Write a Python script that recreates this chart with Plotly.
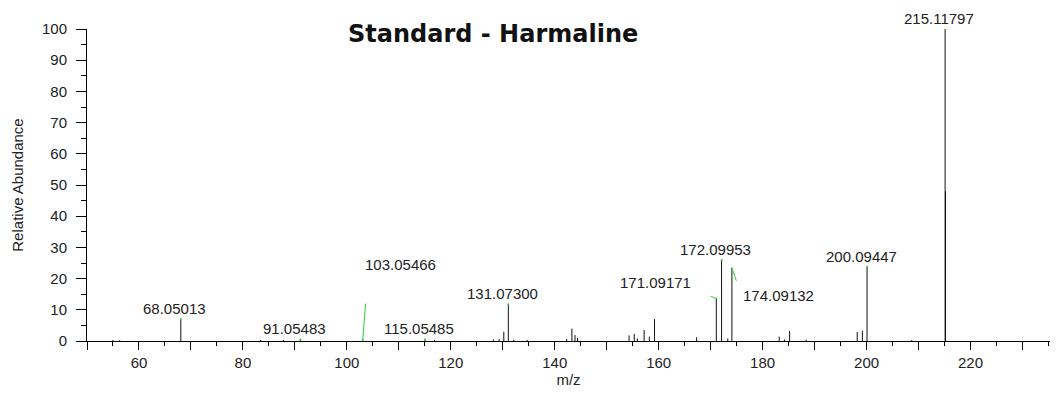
import plotly.graph_objects as go

# ---- data ----
mz = [55.0, 56.3, 68.05013, 83.4, 87.8, 91.05483, 103.05466, 115.05485, 116.9,
      128.2, 129.3, 130.2, 131.07300, 132.1, 134.7, 142.3, 143.3, 143.9, 144.4,
      154.3, 155.3, 155.9, 157.2, 158.2, 159.2, 167.3, 171.09171, 172.09953,
      173.3, 174.09132, 183.2, 184.2, 185.2, 188.4, 198.2, 199.2, 200.09447,
      208.7, 215.11797, 215.19]
intensity = [0.3, 0.3, 7.0, 0.3, 0.3, 0.5, 0.3, 0.5, 0.3,
             0.5, 0.6, 3.0, 11.8, 0.4, 0.3, 0.7, 4.0, 1.9, 1.0,
             1.8, 2.3, 0.8, 3.5, 1.4, 7.0, 1.2, 13.6, 26.0,
             0.8, 23.3, 1.4, 0.5, 3.2, 0.4, 2.9, 3.3, 23.8,
             0.3, 100.0, 48.0]

label_mz = [68.05013, 91.05483, 103.05466, 115.05485, 131.07300, 171.09171,
            172.09953, 174.09132, 200.09447, 215.11797]
label_int = [7.0, 0.5, 0.3, 0.5, 11.8, 13.6, 26.0, 23.3, 23.8, 100.0]
label_txt = ["68.05013", "91.05483", "103.05466", "115.05485", "131.07300",
             "171.09171", "172.09953", "174.09132", "200.09447", "215.11797"]

x_tickvals = list(range(50, 231, 10))
x_ticktext = [str(v) if v % 20 == 0 else "" for v in x_tickvals]

FONT = "Liberation Sans, Arial, sans-serif"
TXT = "#222222"
GREEN = "#33cc33"
FS = 15

# stick spectrum
xs, ys = [], []
for m, h in zip(mz, intensity):
    xs += [m, m, None]
    ys += [0, h, None]

fig = go.Figure()
fig.add_trace(go.Scatter(x=xs, y=ys, mode="lines",
                         line=dict(color="#111111", width=1),
                         hoverinfo="skip", showlegend=False))
fig.add_trace(go.Scatter(x=label_mz, y=label_int, mode="markers",
                         marker=dict(color=GREEN, size=2),
                         hoverinfo="skip", showlegend=False))

# label placement offsets (pixels): default straight above peak
offsets = {
    "103.05466": dict(xshift=38, yshift=76, leader=(3, -38)),
    "171.09171": dict(xshift=-61, yshift=16, leader=(-7, -3)),
    "174.09132": dict(xshift=47, yshift=-27, leader=(5, 14)),
}

for m, h, t in zip(label_mz, label_int, label_txt):
    if t in offsets:
        o = offsets[t]
        fig.add_annotation(x=m, y=h, text=t, showarrow=False,
                           xanchor="center", yanchor="middle",
                           xshift=o["xshift"], yshift=o["yshift"],
                           font=dict(family=FONT, size=FS, color=TXT))
        fig.add_annotation(x=m, y=h, text="", showarrow=True,
                           arrowhead=0, arrowwidth=1, arrowcolor=GREEN,
                           ax=o["leader"][0], ay=o["leader"][1], standoff=0)
    else:
        fig.add_annotation(x=m, y=h, text=t, showarrow=False,
                           xanchor="center", yanchor="bottom",
                           xshift=-6, yshift=0,
                           font=dict(family=FONT, size=FS, color=TXT))

fig.add_annotation(xref="paper", yref="paper", x=0.4216, y=0.985,
                   text="<b>Standard - Harmaline</b>", showarrow=False,
                   xanchor="center", yanchor="middle",
                   font=dict(family="DejaVu Sans, sans-serif", size=24, color="#111111"))

fig.update_layout(
    width=1058, height=396,
    margin=dict(l=87, r=8, t=29, b=55),
    paper_bgcolor="white", plot_bgcolor="white",
    font=dict(family=FONT, size=FS, color=TXT),
    xaxis=dict(range=[50, 235.3], showgrid=False, zeroline=False,
               showline=True, linecolor="black", linewidth=1,
               tickmode="array", tickvals=x_tickvals, ticktext=x_ticktext,
               ticks="outside", ticklen=8, tickcolor="black", tickwidth=1,
               minor=dict(dtick=5, tick0=50, ticks="outside", ticklen=4,
                          tickcolor="black", tickwidth=1),
               title=dict(text="m/z", font=dict(family=FONT, size=FS, color=TXT), standoff=2),
               tickfont=dict(family=FONT, size=FS, color=TXT)),
    yaxis=dict(range=[0, 100], showgrid=False, zeroline=False,
               showline=True, linecolor="black", linewidth=1,
               tickmode="linear", tick0=0, dtick=10,
               ticks="outside", ticklen=10, tickcolor="black", tickwidth=1,
               ticklabelstandoff=6,
               minor=dict(dtick=5, tick0=0, ticks="outside", ticklen=5,
                          tickcolor="black", tickwidth=1),
               title=dict(text="Relative Abundance", font=dict(family=FONT, size=FS, color=TXT), standoff=14),
               tickfont=dict(family=FONT, size=FS, color=TXT)),
)

fig.write_html("out.html")
